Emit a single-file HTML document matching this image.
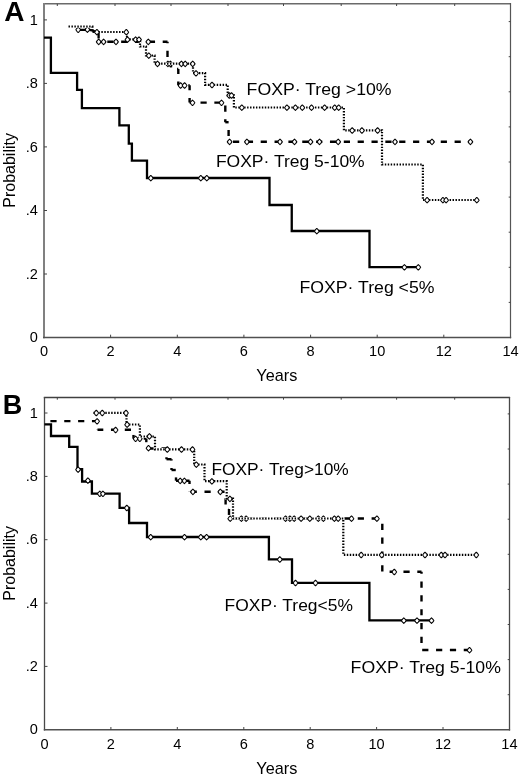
<!DOCTYPE html>
<html><head><meta charset="utf-8"><style>
html,body{margin:0;padding:0;background:#fff;}
body{width:520px;height:780px;overflow:hidden;}
svg{display:block;font-family:"Liberation Sans", sans-serif;will-change:transform;}
text{fill:#000;}
</style></head><body>
<svg width="520" height="780" viewBox="0 0 520 780">
<line x1="43" y1="3.8" x2="511" y2="3.8" stroke="#6a6a6a" stroke-width="1.5"/>
<line x1="44" y1="3" x2="44" y2="338.2" stroke="#808080" stroke-width="2"/>
<line x1="510.5" y1="3" x2="510.5" y2="338.2" stroke="#555" stroke-width="1.2"/>
<line x1="43" y1="337.5" x2="511.2" y2="337.5" stroke="#505050" stroke-width="1.4"/>
<line x1="44.0" y1="274.0" x2="47.0" y2="274.0" stroke="#444" stroke-width="1"/>
<line x1="44.0" y1="210.5" x2="47.0" y2="210.5" stroke="#444" stroke-width="1"/>
<line x1="44.0" y1="146.9" x2="47.0" y2="146.9" stroke="#444" stroke-width="1"/>
<line x1="44.0" y1="83.4" x2="47.0" y2="83.4" stroke="#444" stroke-width="1"/>
<line x1="44.0" y1="19.9" x2="47.0" y2="19.9" stroke="#444" stroke-width="1"/>
<line x1="508.7" y1="302.4" x2="510.5" y2="302.4" stroke="#444" stroke-width="1"/>
<line x1="508.7" y1="267.3" x2="510.5" y2="267.3" stroke="#444" stroke-width="1"/>
<line x1="508.7" y1="232.2" x2="510.5" y2="232.2" stroke="#444" stroke-width="1"/>
<line x1="508.7" y1="197.1" x2="510.5" y2="197.1" stroke="#444" stroke-width="1"/>
<line x1="508.7" y1="162.0" x2="510.5" y2="162.0" stroke="#444" stroke-width="1"/>
<line x1="508.7" y1="126.9" x2="510.5" y2="126.9" stroke="#444" stroke-width="1"/>
<line x1="508.7" y1="91.8" x2="510.5" y2="91.8" stroke="#444" stroke-width="1"/>
<line x1="508.7" y1="56.7" x2="510.5" y2="56.7" stroke="#444" stroke-width="1"/>
<line x1="508.7" y1="21.6" x2="510.5" y2="21.6" stroke="#444" stroke-width="1"/>
<line x1="110.6" y1="334.7" x2="110.6" y2="337.5" stroke="#444" stroke-width="1"/>
<line x1="177.3" y1="334.7" x2="177.3" y2="337.5" stroke="#444" stroke-width="1"/>
<line x1="243.9" y1="334.7" x2="243.9" y2="337.5" stroke="#444" stroke-width="1"/>
<line x1="310.6" y1="334.7" x2="310.6" y2="337.5" stroke="#444" stroke-width="1"/>
<line x1="377.2" y1="334.7" x2="377.2" y2="337.5" stroke="#444" stroke-width="1"/>
<line x1="443.8" y1="334.7" x2="443.8" y2="337.5" stroke="#444" stroke-width="1"/>
<line x1="57.3" y1="3.8" x2="57.3" y2="6.0" stroke="#444" stroke-width="1"/>
<line x1="115.0" y1="3.8" x2="115.0" y2="6.0" stroke="#444" stroke-width="1"/>
<line x1="171.0" y1="3.8" x2="171.0" y2="6.0" stroke="#444" stroke-width="1"/>
<line x1="228.0" y1="3.8" x2="228.0" y2="6.0" stroke="#444" stroke-width="1"/>
<line x1="283.5" y1="3.8" x2="283.5" y2="6.0" stroke="#444" stroke-width="1"/>
<line x1="341.2" y1="3.8" x2="341.2" y2="6.0" stroke="#444" stroke-width="1"/>
<line x1="396.6" y1="3.8" x2="396.6" y2="6.0" stroke="#444" stroke-width="1"/>
<line x1="454.7" y1="3.8" x2="454.7" y2="6.0" stroke="#444" stroke-width="1"/>
<text transform="translate(37.80,342.10) scale(1.04,1)" font-size="14" text-anchor="end">0</text>
<text transform="translate(37.80,278.58) scale(1.04,1)" font-size="14" text-anchor="end">.2</text>
<text transform="translate(37.80,215.06) scale(1.04,1)" font-size="14" text-anchor="end">.4</text>
<text transform="translate(37.80,151.54) scale(1.04,1)" font-size="14" text-anchor="end">.6</text>
<text transform="translate(37.80,88.02) scale(1.04,1)" font-size="14" text-anchor="end">.8</text>
<text transform="translate(37.80,24.50) scale(1.04,1)" font-size="14" text-anchor="end">1</text>
<text transform="translate(44.00,355.60) scale(1.04,1)" font-size="14" text-anchor="middle">0</text>
<text transform="translate(110.64,355.60) scale(1.04,1)" font-size="14" text-anchor="middle">2</text>
<text transform="translate(177.28,355.60) scale(1.04,1)" font-size="14" text-anchor="middle">4</text>
<text transform="translate(243.92,355.60) scale(1.04,1)" font-size="14" text-anchor="middle">6</text>
<text transform="translate(310.56,355.60) scale(1.04,1)" font-size="14" text-anchor="middle">8</text>
<text transform="translate(377.20,355.60) scale(1.04,1)" font-size="14" text-anchor="middle">10</text>
<text transform="translate(443.84,355.60) scale(1.04,1)" font-size="14" text-anchor="middle">12</text>
<text transform="translate(510.48,355.60) scale(1.04,1)" font-size="14" text-anchor="middle">14</text>
<text transform="translate(276.80,381.00) scale(1.015,1)" font-size="16" text-anchor="middle">Years</text>
<text transform="translate(14.6,170.4) rotate(-90)" text-anchor="middle" font-size="16">Probability</text>
<line x1="43.8" y1="397.5" x2="510.1" y2="397.5" stroke="#404040" stroke-width="1.3"/>
<line x1="44.5" y1="396.9" x2="44.5" y2="730.5" stroke="#484848" stroke-width="1.3"/>
<line x1="509.5" y1="396.9" x2="509.5" y2="730.5" stroke="#484848" stroke-width="1.3"/>
<line x1="43.8" y1="729.8" x2="510.1" y2="729.8" stroke="#505050" stroke-width="1.4"/>
<line x1="44.5" y1="666.4" x2="47.5" y2="666.4" stroke="#444" stroke-width="1"/>
<line x1="44.5" y1="603.1" x2="47.5" y2="603.1" stroke="#444" stroke-width="1"/>
<line x1="44.5" y1="539.7" x2="47.5" y2="539.7" stroke="#444" stroke-width="1"/>
<line x1="44.5" y1="476.4" x2="47.5" y2="476.4" stroke="#444" stroke-width="1"/>
<line x1="44.5" y1="413.0" x2="47.5" y2="413.0" stroke="#444" stroke-width="1"/>
<line x1="507.7" y1="694.7" x2="509.5" y2="694.7" stroke="#444" stroke-width="1"/>
<line x1="507.7" y1="659.6" x2="509.5" y2="659.6" stroke="#444" stroke-width="1"/>
<line x1="507.7" y1="624.5" x2="509.5" y2="624.5" stroke="#444" stroke-width="1"/>
<line x1="507.7" y1="589.4" x2="509.5" y2="589.4" stroke="#444" stroke-width="1"/>
<line x1="507.7" y1="554.3" x2="509.5" y2="554.3" stroke="#444" stroke-width="1"/>
<line x1="507.7" y1="519.2" x2="509.5" y2="519.2" stroke="#444" stroke-width="1"/>
<line x1="507.7" y1="484.1" x2="509.5" y2="484.1" stroke="#444" stroke-width="1"/>
<line x1="507.7" y1="449.0" x2="509.5" y2="449.0" stroke="#444" stroke-width="1"/>
<line x1="507.7" y1="413.9" x2="509.5" y2="413.9" stroke="#444" stroke-width="1"/>
<line x1="110.9" y1="727.0" x2="110.9" y2="729.8" stroke="#444" stroke-width="1"/>
<line x1="177.3" y1="727.0" x2="177.3" y2="729.8" stroke="#444" stroke-width="1"/>
<line x1="243.8" y1="727.0" x2="243.8" y2="729.8" stroke="#444" stroke-width="1"/>
<line x1="310.2" y1="727.0" x2="310.2" y2="729.8" stroke="#444" stroke-width="1"/>
<line x1="376.6" y1="727.0" x2="376.6" y2="729.8" stroke="#444" stroke-width="1"/>
<line x1="443.0" y1="727.0" x2="443.0" y2="729.8" stroke="#444" stroke-width="1"/>
<line x1="57.3" y1="397.5" x2="57.3" y2="399.7" stroke="#444" stroke-width="1"/>
<line x1="115.0" y1="397.5" x2="115.0" y2="399.7" stroke="#444" stroke-width="1"/>
<line x1="171.0" y1="397.5" x2="171.0" y2="399.7" stroke="#444" stroke-width="1"/>
<line x1="228.0" y1="397.5" x2="228.0" y2="399.7" stroke="#444" stroke-width="1"/>
<line x1="283.5" y1="397.5" x2="283.5" y2="399.7" stroke="#444" stroke-width="1"/>
<line x1="341.2" y1="397.5" x2="341.2" y2="399.7" stroke="#444" stroke-width="1"/>
<line x1="396.6" y1="397.5" x2="396.6" y2="399.7" stroke="#444" stroke-width="1"/>
<line x1="454.7" y1="397.5" x2="454.7" y2="399.7" stroke="#444" stroke-width="1"/>
<text transform="translate(37.80,734.40) scale(1.04,1)" font-size="14" text-anchor="end">0</text>
<text transform="translate(37.80,671.04) scale(1.04,1)" font-size="14" text-anchor="end">.2</text>
<text transform="translate(37.80,607.68) scale(1.04,1)" font-size="14" text-anchor="end">.4</text>
<text transform="translate(37.80,544.32) scale(1.04,1)" font-size="14" text-anchor="end">.6</text>
<text transform="translate(37.80,480.96) scale(1.04,1)" font-size="14" text-anchor="end">.8</text>
<text transform="translate(37.80,417.60) scale(1.04,1)" font-size="14" text-anchor="end">1</text>
<text transform="translate(44.50,748.60) scale(1.04,1)" font-size="14" text-anchor="middle">0</text>
<text transform="translate(110.92,748.60) scale(1.04,1)" font-size="14" text-anchor="middle">2</text>
<text transform="translate(177.34,748.60) scale(1.04,1)" font-size="14" text-anchor="middle">4</text>
<text transform="translate(243.76,748.60) scale(1.04,1)" font-size="14" text-anchor="middle">6</text>
<text transform="translate(310.18,748.60) scale(1.04,1)" font-size="14" text-anchor="middle">8</text>
<text transform="translate(376.60,748.60) scale(1.04,1)" font-size="14" text-anchor="middle">10</text>
<text transform="translate(443.02,748.60) scale(1.04,1)" font-size="14" text-anchor="middle">12</text>
<text transform="translate(509.44,748.60) scale(1.04,1)" font-size="14" text-anchor="middle">14</text>
<text transform="translate(276.80,774.00) scale(1.015,1)" font-size="16" text-anchor="middle">Years</text>
<text transform="translate(14.6,563.4) rotate(-90)" text-anchor="middle" font-size="16">Probability</text>
<text x="4.2" y="20.7" font-size="28" font-weight="bold">A</text>
<text x="2.8" y="414.1" font-size="27" font-weight="bold">B</text>
<text transform="translate(246.60,94.80) scale(1.066,1)" font-size="16.6">FOXP· Treg &gt;10%</text>
<text transform="translate(215.90,167.10) scale(1.055,1)" font-size="16.6">FOXP· Treg 5-10%</text>
<text transform="translate(299.40,293.30) scale(1.066,1)" font-size="16.6">FOXP· Treg &lt;5%</text>
<text transform="translate(211.40,475.20) scale(1.045,1)" font-size="16.6">FOXP· Treg&gt;10%</text>
<text transform="translate(224.60,611.40) scale(1.05,1)" font-size="16.6">FOXP· Treg&lt;5%</text>
<text transform="translate(350.60,672.80) scale(1.066,1)" font-size="16.6">FOXP· Treg 5-10%</text>
<defs><path id="mk" d="M0 -2.75 L1.29 -1.51 L2.35 0 L1.29 1.51 L0 2.75 L-1.29 1.51 L-2.35 0 L-1.29 -1.51 Z" fill="#fff" stroke="#000" stroke-width="1.05" stroke-linejoin="round"/></defs>
<path d="M44 37.7 H50.9 V72.9 H77.1 V89.8 H81.9 V108.1 H119.4 V125.4 H128.8 V143.7 H131.9 V160.6 H147 V178 H269.5 V205 H291.75 V231 H369.5 V267.1 H418.3" transform="translate(0,0)" fill="none" stroke="#000" stroke-width="2.3" stroke-linejoin="miter"/>
<use href="#mk" x="150.8" y="178.2"/>
<use href="#mk" x="200.8" y="178.2"/>
<use href="#mk" x="206.8" y="178.2"/>
<use href="#mk" x="316.8" y="231.2"/>
<use href="#mk" x="404.4" y="267.3"/>
<use href="#mk" x="418.3" y="267.3"/>
<g fill="none" stroke="#000" stroke-width="2.4" stroke-dasharray="6.2 7.65"><path d="M98.7 41.8 L167.5 41.8" stroke-dashoffset="5.25"/><path d="M167.5 41.8 L167.5 63.7" stroke-dashoffset="4.80"/><path d="M167.5 63.7 L171.0 63.7" stroke-dashoffset="12.85"/><path d="M171.0 63.7 L171.0 69.0" stroke-dashoffset="2.50"/><path d="M171.0 69.0 L178.3 69.0" stroke-dashoffset="7.80"/><path d="M178.3 69.0 L178.3 85.3" stroke-dashoffset="1.25"/><path d="M178.3 85.3 L189.6 85.3" stroke-dashoffset="3.70"/><path d="M189.6 85.3 L189.6 102.6" stroke-dashoffset="1.15"/><path d="M189.6 102.6 L225.3 102.6" stroke-dashoffset="2.95"/><path d="M225.3 102.6 L225.3 122.2" stroke-dashoffset="10.95"/><path d="M225.3 122.2 L228.6 122.2" stroke-dashoffset="2.85"/><path d="M228.6 122.2 L228.6 141.7" stroke-dashoffset="6.15"/><path d="M228.6 141.7 L470.4 141.7" stroke-dashoffset="9.45"/></g>
<use href="#mk" x="78.2" y="29.8"/>
<use href="#mk" x="87.4" y="29.6"/>
<use href="#mk" x="98.7" y="41.9"/>
<use href="#mk" x="103.6" y="41.9"/>
<use href="#mk" x="116.0" y="41.9"/>
<use href="#mk" x="148.3" y="41.9"/>
<use href="#mk" x="167.9" y="63.9"/>
<use href="#mk" x="170.4" y="63.9"/>
<use href="#mk" x="180.6" y="85.5"/>
<use href="#mk" x="184.6" y="85.5"/>
<use href="#mk" x="192.5" y="102.8"/>
<use href="#mk" x="221.5" y="102.8"/>
<use href="#mk" x="229.6" y="141.9"/>
<use href="#mk" x="246.9" y="141.9"/>
<use href="#mk" x="280.0" y="141.9"/>
<use href="#mk" x="294.5" y="141.9"/>
<use href="#mk" x="310.5" y="141.9"/>
<use href="#mk" x="319.5" y="141.9"/>
<use href="#mk" x="338.2" y="141.9"/>
<use href="#mk" x="395.0" y="141.9"/>
<use href="#mk" x="432.0" y="141.9"/>
<use href="#mk" x="470.4" y="141.9"/>
<path d="M68.5 26.5 H92.4 V32 H127 V39.4 H140 V46.5 H146 V55.5 H154.6 V63.7 H193 V73.1 H205.1 V84.8 H227.7 V95.3 H233.9 V107.5 H343.9 V130.3 H382 V164.5 H422.9 V200 H477" fill="none" stroke="#fff" stroke-width="2.6"/><path d="M68.5 26.5 H92.4 V32 H127 V39.4 H140 V46.5 H146 V55.5 H154.6 V63.7 H193 V73.1 H205.1 V84.8 H227.7 V95.3 H233.9 V107.5 H343.9 V130.3 H382 V164.5 H422.9 V200 H477" transform="translate(0,0)" fill="none" stroke="#000" stroke-width="2.2" stroke-dasharray="1.45 1.5"/>
<path d="M80 29.8 H86 M89.5 29.9 L93 30.6 L96.5 32.2 M98.6 33 V38.6" fill="none" stroke="#000" stroke-width="2.3"/>
<use href="#mk" x="96.9" y="32.2"/>
<use href="#mk" x="126.3" y="32.2"/>
<use href="#mk" x="127.5" y="39.6"/>
<use href="#mk" x="135.6" y="39.6"/>
<use href="#mk" x="139.0" y="39.6"/>
<use href="#mk" x="148.8" y="55.7"/>
<use href="#mk" x="157.5" y="63.9"/>
<use href="#mk" x="181.4" y="63.9"/>
<use href="#mk" x="185.2" y="63.9"/>
<use href="#mk" x="192.7" y="63.9"/>
<use href="#mk" x="196.0" y="73.3"/>
<use href="#mk" x="212.0" y="85.0"/>
<use href="#mk" x="229.3" y="95.5"/>
<use href="#mk" x="231.5" y="95.5"/>
<use href="#mk" x="241.8" y="107.7"/>
<use href="#mk" x="286.9" y="107.7"/>
<use href="#mk" x="295.4" y="107.7"/>
<use href="#mk" x="302.3" y="107.7"/>
<use href="#mk" x="311.5" y="107.7"/>
<use href="#mk" x="324.6" y="107.7"/>
<use href="#mk" x="334.7" y="107.7"/>
<use href="#mk" x="338.7" y="107.7"/>
<use href="#mk" x="352.2" y="130.5"/>
<use href="#mk" x="361.9" y="130.5"/>
<use href="#mk" x="377.6" y="130.5"/>
<use href="#mk" x="427.1" y="200.2"/>
<use href="#mk" x="442.9" y="200.2"/>
<use href="#mk" x="446.1" y="200.2"/>
<use href="#mk" x="476.8" y="200.2"/>
<path d="M44.5 424.4 H51 V436 H69.2 V446.9 H77.5 V469.2 H82.1 V481.5 H91.9 V493.6 H119.6 V507.8 H129.1 V523 H147 V537 H268.9 V559.3 H292 V582.8 H369.4 V620.4 H431.5" transform="translate(0,0)" fill="none" stroke="#000" stroke-width="2.3" stroke-linejoin="miter"/>
<use href="#mk" x="78.1" y="469.6"/>
<use href="#mk" x="87.9" y="480.6"/>
<use href="#mk" x="99.8" y="493.8"/>
<use href="#mk" x="102.9" y="493.8"/>
<use href="#mk" x="126.8" y="508.0"/>
<use href="#mk" x="150.7" y="537.2"/>
<use href="#mk" x="184.5" y="537.2"/>
<use href="#mk" x="200.8" y="537.2"/>
<use href="#mk" x="206.6" y="537.2"/>
<use href="#mk" x="279.8" y="559.5"/>
<use href="#mk" x="295.5" y="583.0"/>
<use href="#mk" x="315.5" y="583.0"/>
<use href="#mk" x="403.8" y="620.6"/>
<use href="#mk" x="417.0" y="620.6"/>
<use href="#mk" x="431.5" y="620.6"/>
<g fill="none" stroke="#000" stroke-width="2.4" stroke-dasharray="6.2 7.65"><path d="M44.5 421.1 L97.5 421.1" stroke-dashoffset="7.95"/><path d="M97.5 421.1 L97.5 429.8" stroke-dashoffset="5.55"/><path d="M97.5 429.8 L133.5 429.8" stroke-dashoffset="0.40"/><path d="M133.5 429.8 L133.5 438.6" stroke-dashoffset="8.70"/><path d="M133.5 438.6 L146.3 438.6" stroke-dashoffset="3.65"/><path d="M146.3 438.6 L146.3 448.5" stroke-dashoffset="2.60"/><path d="M146.3 448.5 L166.5 448.5" stroke-dashoffset="12.50"/><path d="M166.5 448.5 L166.5 459.2" stroke-dashoffset="5.00"/><path d="M166.5 459.2 L171.5 459.2" stroke-dashoffset="0.00"/><path d="M171.5 459.2 L171.5 470.0" stroke-dashoffset="5.00"/><path d="M171.5 470.0 L176.0 470.0" stroke-dashoffset="1.95"/><path d="M176.0 470.0 L176.0 480.7" stroke-dashoffset="6.45"/><path d="M176.0 480.7 L189.5 480.7" stroke-dashoffset="3.30"/><path d="M189.5 480.7 L189.5 491.7" stroke-dashoffset="2.95"/><path d="M189.5 491.7 L225.6 491.7" stroke-dashoffset="12.70"/><path d="M225.6 491.7 L225.6 509.0" stroke-dashoffset="7.25"/><path d="M225.6 509.0 L229.0 509.0" stroke-dashoffset="10.70"/><path d="M229.0 509.0 L229.0 518.5" stroke-dashoffset="0.25"/><path d="M229.0 518.5 L382.3 518.5" stroke-dashoffset="9.75"/><path d="M382.3 518.5 L382.3 571.8" stroke-dashoffset="8.65"/><path d="M382.3 571.8 L421.5 571.8" stroke-dashoffset="6.55"/><path d="M421.5 571.8 L421.5 650.0" stroke-dashoffset="4.20"/><path d="M421.5 650.0 L469.5 650.0" stroke-dashoffset="13.15"/></g>
<use href="#mk" x="97.1" y="421.3"/>
<use href="#mk" x="115.6" y="430.0"/>
<use href="#mk" x="135.6" y="438.8"/>
<use href="#mk" x="139.8" y="438.8"/>
<use href="#mk" x="148.5" y="448.2"/>
<use href="#mk" x="180.2" y="480.9"/>
<use href="#mk" x="184.4" y="480.9"/>
<use href="#mk" x="192.9" y="491.9"/>
<use href="#mk" x="220.3" y="491.9"/>
<use href="#mk" x="230.2" y="518.7"/>
<use href="#mk" x="241.4" y="518.7"/>
<use href="#mk" x="246.1" y="518.7"/>
<use href="#mk" x="285.6" y="518.7"/>
<use href="#mk" x="289.9" y="518.7"/>
<use href="#mk" x="294.2" y="518.7"/>
<use href="#mk" x="318.3" y="518.7"/>
<use href="#mk" x="323.4" y="518.7"/>
<use href="#mk" x="351.5" y="518.7"/>
<use href="#mk" x="376.9" y="518.7"/>
<use href="#mk" x="394.3" y="572.0"/>
<use href="#mk" x="469.5" y="650.2"/>
<path d="M93.5 412.8 H126.5 V424.5 H139.9 V436.5 H155 V449.3 H194.2 V464.5 H204.5 V481.2 H226.7 V498.7 H233 V518.5 H343.3 V554.8 H476.3" fill="none" stroke="#fff" stroke-width="2.6"/><path d="M93.5 412.8 H126.5 V424.5 H139.9 V436.5 H155 V449.3 H194.2 V464.5 H204.5 V481.2 H226.7 V498.7 H233 V518.5 H343.3 V554.8 H476.3" transform="translate(0,0)" fill="none" stroke="#000" stroke-width="2.2" stroke-dasharray="1.45 1.5"/>
<use href="#mk" x="96.3" y="413.0"/>
<use href="#mk" x="102.3" y="413.0"/>
<use href="#mk" x="126.0" y="413.0"/>
<use href="#mk" x="127.1" y="424.7"/>
<use href="#mk" x="149.4" y="436.4"/>
<use href="#mk" x="167.3" y="449.5"/>
<use href="#mk" x="181.5" y="449.5"/>
<use href="#mk" x="192.5" y="449.5"/>
<use href="#mk" x="196.3" y="464.7"/>
<use href="#mk" x="211.9" y="481.4"/>
<use href="#mk" x="229.9" y="498.9"/>
<use href="#mk" x="301.1" y="518.7"/>
<use href="#mk" x="309.8" y="518.7"/>
<use href="#mk" x="334.4" y="518.7"/>
<use href="#mk" x="338.2" y="518.7"/>
<use href="#mk" x="361.2" y="555.0"/>
<use href="#mk" x="381.7" y="555.0"/>
<use href="#mk" x="425.0" y="555.0"/>
<use href="#mk" x="441.3" y="555.0"/>
<use href="#mk" x="445.0" y="555.0"/>
<use href="#mk" x="476.3" y="555.0"/>
</svg>
</body></html>
